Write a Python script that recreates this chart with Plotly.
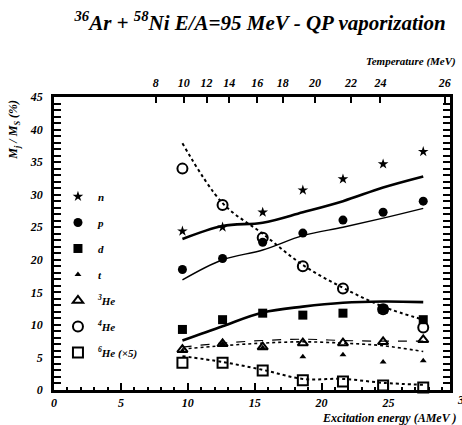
import plotly.graph_objects as go

# ---- data ----
excitation = [9.6, 12.6, 15.6, 18.6, 21.6, 24.6, 27.6]
n_vals = [24.4, 25.0, 27.3, 30.7, 32.4, 34.7, 36.6]
p_vals = [18.5, 20.2, 22.7, 24.1, 26.1, 27.3, 29.0]
d_vals = [9.3, 10.8, 11.8, 11.5, 11.8, 12.4, 10.8]
t_vals = [6.0, 7.1, 6.5, 5.1, 5.4, 4.3, 4.5]
he3_vals = [6.2, 7.1, 6.6, 7.2, 7.2, 7.4, 7.7]
he4_vals = [34.0, 28.4, 23.4, 19.0, 15.6, 12.4, 9.6]
he6x5_vals = [4.2, 4.2, 3.0, 1.5, 1.3, 0.7, 0.4]

n_fit = [23.2, 25.2, 25.7, 27.3, 29.0, 31.1, 32.8]
p_fit = [16.9, 20.0, 21.5, 23.7, 25.0, 26.4, 27.9]
d_fit = [7.6, 9.8, 11.9, 12.8, 13.4, 13.6, 13.5]
t_fit = [6.3, 6.8, 7.2, 7.4, 7.2, 6.8, 5.9]
he3_fit = [6.6, 7.2, 7.6, 7.8, 7.6, 7.5, 7.5]
he4_fit = [37.9, 28.7, 24.0, 19.2, 15.7, 12.8, 10.8]
he6_fit = [5.2, 4.3, 3.1, 1.7, 1.7, 1.1, 0.8]

temperature_ticks = [8, 10, 12, 14, 16, 18, 20, 22, 24, 26]
temperature_tick_energy = [7.6, 9.7, 11.4, 13.1, 15.2, 17.1, 19.5, 22.2, 24.4, 29.2]

legend_names = ["n", "p", "d", "t", "<sup>3</sup>He", "<sup>4</sup>He", "<sup>6</sup>He (×5)"]

FONT = "Liberation Serif"
BLACK = "black"

fig = go.Figure()

# fit curves
fits = [
    (n_fit, 2.6, "solid"),
    (p_fit, 1.4, "solid"),
    (d_fit, 2.6, "solid"),
    (t_fit, 1.6, "dot"),
    (he3_fit, 1.2, "dash"),
    (he4_fit, 2.0, "dot"),
    (he6_fit, 2.0, "dot"),
]
for vals, w, dash in fits:
    fig.add_trace(go.Scatter(x=excitation, y=vals, mode="lines",
                             line=dict(color=BLACK, width=w, dash=dash, shape="spline"),
                             showlegend=False, hoverinfo="skip", cliponaxis=True))

series = [
    (n_vals, "star", 8, 0),
    (p_vals, "circle", 9, 0),
    (d_vals, "square", 9, 0),
    (t_vals, "triangle-up", 6, 0),
    (he3_vals, "triangle-up-open", 9, 2),
    (he4_vals, "circle-open", 10, 2),
    (he6x5_vals, "square-open", 10, 2),
]
for i, ((vals, sym, sz, lw), name) in enumerate(zip(series, legend_names)):
    fig.add_trace(go.Scatter(x=excitation, y=vals, mode="markers", name=name,
                             legendgroup=f"g{i}",
                             marker=dict(symbol=sym, size=sz, color=BLACK,
                                         line=dict(color=BLACK, width=lw)),
                             cliponaxis=False))

# invisible trace to activate top axis
fig.add_trace(go.Scatter(x=[temperature_tick_energy[0]], y=[None], xaxis="x2",
                         showlegend=False, hoverinfo="skip"))

tickfont = dict(family=FONT, size=12, color=BLACK, weight="bold", style="italic")

fig.update_layout(
    width=462, height=425,
    margin=dict(l=54, r=9, t=97, b=35),
    paper_bgcolor="white", plot_bgcolor="white",
    title=dict(text="<sup>36</sup>Ar + <sup>58</sup>Ni E/A=95 MeV - QP vaporization",
               font=dict(family=FONT, size=21, color=BLACK, weight="bold", style="italic"),
               x=0.563, xref="container", xanchor="center",
               y=0.947, yref="container", yanchor="middle"),
    showlegend=True,
    legend=dict(x=0.01, xanchor="left", y=0.71, yanchor="top",
                bgcolor="rgba(0,0,0,0)", tracegroupgap=7,
                font=dict(family=FONT, size=11, color=BLACK, weight="bold", style="italic")),
    xaxis=dict(range=[0, 29.6], tickmode="linear", tick0=0, dtick=5,
               ticks="inside", ticklen=7, tickwidth=1.5, tickcolor=BLACK,
               minor=dict(dtick=1, ticks="inside", ticklen=3, tickcolor=BLACK),
               showline=True, linecolor=BLACK, linewidth=2.5, mirror=False,
               showgrid=False, zeroline=False, tickfont=tickfont, ticklabelstandoff=0),
    xaxis2=dict(range=[0, 29.6], overlaying="x", side="top", tickmode="array",
                tickvals=temperature_tick_energy, ticktext=[str(t) for t in temperature_ticks],
                ticks="inside", ticklen=6, tickwidth=1.5, tickcolor=BLACK,
                showline=True, linecolor=BLACK, linewidth=2.5,
                showgrid=False, zeroline=False, tickfont=tickfont, ticklabelstandoff=2),
    yaxis=dict(range=[0, 45], tickmode="linear", tick0=0, dtick=5,
               ticks="inside", ticklen=7, tickwidth=1.5, tickcolor=BLACK,
               minor=dict(dtick=1, ticks="inside", ticklen=4, tickcolor=BLACK),
               showline=True, linecolor=BLACK, linewidth=2.5, mirror="allticks",
               showgrid=False, zeroline=False, tickfont=tickfont, ticklabelstandoff=6),
)

ann_font = dict(family=FONT, size=12, color=BLACK, weight="bold", style="italic")
fig.add_annotation(text="M<sub>j</sub> / M<sub>S</sub> (%)", textangle=-90,
                   xref="paper", yref="paper", x=-0.1, y=0.89,
                   xanchor="center", yanchor="middle", showarrow=False, font=ann_font)
fig.add_annotation(text="Excitation energy (AMeV )", xref="paper", yref="paper",
                   x=1.02, y=-0.094, xanchor="right", yanchor="middle",
                   showarrow=False, font=ann_font)
fig.add_annotation(text="Temperature (MeV)", xref="paper", yref="paper",
                   x=1.02, y=1.12, xanchor="right", yanchor="middle",
                   showarrow=False, font=dict(family=FONT, size=11, color=BLACK,
                                              weight="bold", style="italic"))
fig.add_annotation(text="30", xref="paper", yref="paper", x=1.012, y=-0.035,
                   xanchor="left", yanchor="middle", showarrow=False, font=tickfont)

fig.write_html("out.html", config={"displayModeBar": False},
               post_script="document.body.style.margin='0';document.body.style.overflow='hidden';")
